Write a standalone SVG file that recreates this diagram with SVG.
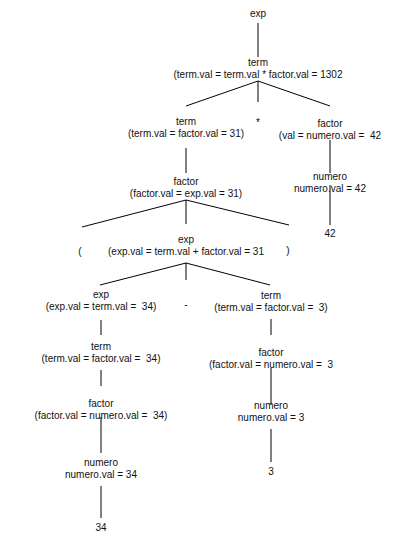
<svg xmlns="http://www.w3.org/2000/svg" width="419" height="547" viewBox="0 0 419 547">
<style>
text{font-family:"Liberation Sans",Arial,sans-serif;font-size:10px;fill:#111;text-anchor:middle;white-space:pre}
.c line{stroke:#000;stroke-width:1;fill:none}
</style>
<rect width="419" height="547" fill="#fff"/>
<g id="connectors" class="c">
<line x1="258" y1="23" x2="258" y2="57"/>
<line x1="258" y1="81" x2="186" y2="106"/>
<line x1="258" y1="81" x2="258" y2="102"/>
<line x1="258" y1="81" x2="330" y2="106"/>
<line x1="186" y1="148" x2="186" y2="173"/>
<line x1="330" y1="140" x2="330" y2="173"/>
<line x1="330" y1="185" x2="330" y2="225"/>
<line x1="186" y1="200" x2="82" y2="227"/>
<line x1="186" y1="200" x2="186" y2="224"/>
<line x1="186" y1="200" x2="289" y2="225"/>
<line x1="186" y1="263" x2="100" y2="285"/>
<line x1="186" y1="263" x2="186" y2="280"/>
<line x1="186" y1="263" x2="270" y2="285"/>
<line x1="101" y1="320" x2="101" y2="335"/>
<line x1="271" y1="319" x2="271" y2="335"/>
<line x1="101" y1="370" x2="101" y2="386"/>
<line x1="271" y1="368" x2="271" y2="405"/>
<line x1="101" y1="417" x2="101" y2="453"/>
<line x1="271" y1="429" x2="271" y2="462"/>
<line x1="101" y1="486" x2="101" y2="518"/>
</g>
<g id="exp-root"><text x="258" y="17">exp</text></g>
<g id="term-root"><text x="258" y="66">term</text><text x="258" y="78">(term.val = term.val * factor.val = 1302</text></g>
<g id="term-left"><text x="186" y="125">term</text><text x="186" y="137">(term.val = factor.val = 31)</text></g>
<g id="star"><text x="258" y="126">*</text></g>
<g id="factor-right"><text x="330" y="127">factor</text><text x="330" y="139">(val = numero.val =  42</text></g>
<g id="numero-42"><text x="330" y="180">numero</text><text x="330" y="192">numero.val = 42</text></g>
<g id="leaf-42"><text x="330" y="237">42</text></g>
<g id="factor-mid"><text x="186" y="185">factor</text><text x="186" y="197">(factor.val = exp.val = 31)</text></g>
<g id="lparen"><text x="80" y="255">(</text></g>
<g id="exp-mid"><text x="186" y="243">exp</text><text x="186" y="255">(exp.val = term.val + factor.val = 31</text></g>
<g id="rparen"><text x="288" y="254">)</text></g>
<g id="exp-left"><text x="101" y="298">exp</text><text x="101" y="310">(exp.val = term.val =  34)</text></g>
<g id="minus"><text x="186" y="308">-</text></g>
<g id="term-right"><text x="271" y="299">term</text><text x="271" y="311">(term.val = factor.val =  3)</text></g>
<g id="term-left2"><text x="101" y="350">term</text><text x="101" y="362">(term.val = factor.val =  34)</text></g>
<g id="factor-right2"><text x="271" y="356">factor</text><text x="271" y="368">(factor.val = numero.val =  3</text></g>
<g id="factor-left2"><text x="101" y="407">factor</text><text x="101" y="419">(factor.val = numero.val =  34)</text></g>
<g id="numero-3"><text x="271" y="409">numero</text><text x="271" y="421">numero.val = 3</text></g>
<g id="leaf-3"><text x="271" y="475">3</text></g>
<g id="numero-34"><text x="101" y="466">numero</text><text x="101" y="478">numero.val = 34</text></g>
<g id="leaf-34"><text x="101" y="531">34</text></g>
</svg>
